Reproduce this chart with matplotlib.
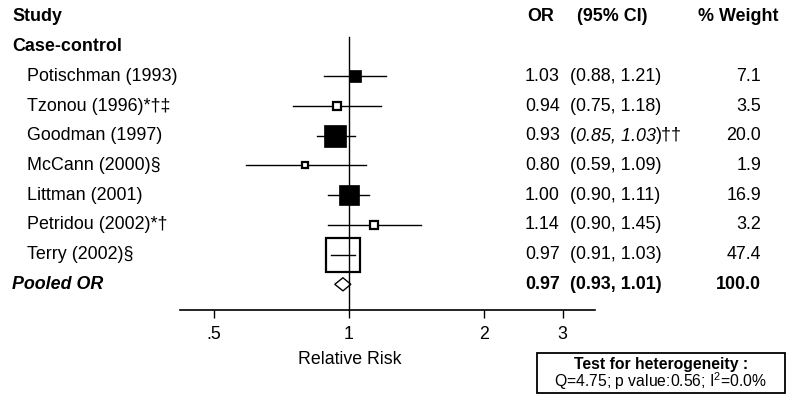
import numpy as np
import matplotlib.pyplot as plt
from matplotlib.patches import Polygon, Rectangle
from matplotlib.transforms import blended_transform_factory

plt.rcParams['font.family'] = ['Liberation Sans', 'DejaVu Sans']
plt.rcParams['mathtext.fontset'] = 'custom'
plt.rcParams['mathtext.rm'] = 'Liberation Sans'
plt.rcParams['mathtext.it'] = 'Liberation Sans:italic'
plt.rcParams['mathtext.bf'] = 'Liberation Sans:bold'

# data
studies = ["Potischman (1993)", "Tzonou (1996)*\u2020\u2021", "Goodman (1997)",
           "McCann (2000)\u00a7", "Littman (2001)", "Petridou (2002)*\u2020",
           "Terry (2002)\u00a7"]
or_vals = [1.03, 0.94, 0.93, 0.80, 1.00, 1.14, 0.97]
ci_low = [0.88, 0.75, 0.85, 0.59, 0.90, 0.90, 0.91]
ci_high = [1.21, 1.18, 1.03, 1.09, 1.11, 1.45, 1.03]
weights = [7.1, 3.5, 20.0, 1.9, 16.9, 3.2, 47.4]
filled = [True, False, True, False, True, False, False]
pooled_or, pooled_low, pooled_high = 0.97, 0.93, 1.01
het_q, het_p, het_i2 = 4.75, 0.56, 0.0
tick_vals = [0.5, 1, 2, 3]
tick_labels = ['.5', '1', '2', '3']

W, H = 800, 412
fig = plt.figure(figsize=(W / 100, H / 100), dpi=100)
ax = fig.add_axes([180 / W, 1 - 310 / H, 415 / W, 310 / H])
ax.set_xscale('log')
ax.set_xlim(0.42, 3.54)
ax.set_ylim(9.865, -0.572)

for s in ['top', 'right', 'left']:
    ax.spines[s].set_visible(False)
ax.spines['bottom'].set_linewidth(1.2)
ax.set_yticks([])
ax.set_xticks(tick_vals)
ax.set_xticklabels(tick_labels)
ax.xaxis.set_minor_locator(plt.NullLocator())
ax.tick_params(axis='x', direction='out', length=5.8, width=1, pad=6, labelsize=12.8)
ax.set_xlabel('Relative Risk', fontsize=12.8)
ax.xaxis.set_label_coords((350 - 180) / 415, -(360 - 310) / 310)
ax.xaxis.label.set_va('center')

# null line, on top of the open boxes
ax.plot([1, 1], [0.673, 9.865], color='black', lw=1, clip_on=False, zorder=5)

rows = np.arange(len(studies)) + 2
px_per_unit = 4.8
for i, r in enumerate(rows):
    ax.plot([ci_low[i], ci_high[i]], [r, r], color='black', lw=1, zorder=2)
    side_px = px_per_unit * np.sqrt(weights[i])
    ms = side_px * 0.72
    if filled[i]:
        ax.plot(or_vals[i], r, marker='s', ms=ms, mfc='black', mec='black', mew=0.5, zorder=3)
    else:
        ax.plot(or_vals[i], r, marker='s', ms=ms, mfc='white', mec='black', mew=1.6, zorder=3)
        # redraw CI on top when it fits inside the box
        x0 = ax.transData.transform((ci_low[i], r))[0]
        x1 = ax.transData.transform((ci_high[i], r))[0]
        xc = ax.transData.transform((or_vals[i], r))[0]
        if xc - x0 < side_px / 2 and x1 - xc < side_px / 2:
            ax.plot([ci_low[i], ci_high[i]], [r, r], color='black', lw=1, zorder=4)

# pooled diamond
pr = 9
h = 0.22
ax.add_patch(Polygon([(pooled_low, pr), (pooled_or, pr - h), (pooled_high, pr), (pooled_or, pr + h)],
                     closed=True, fc='white', ec='black', lw=1, zorder=3))

# text columns
tr = blended_transform_factory(fig.transFigure, ax.transData)
fs = 12.9
ax.text(12 / W, 0, 'Study', transform=tr, fontsize=fs, fontweight='bold', va='center')
ax.text(527 / W, 0, 'OR', transform=tr, fontsize=fs, fontweight='bold', va='center')
ax.text(577 / W, 0, '(95% CI)', transform=tr, fontsize=fs, fontweight='bold', va='center')
ax.text(779 / W, 0, '% Weight', transform=tr, fontsize=fs, fontweight='bold', va='center', ha='right')
ax.text(12 / W, 1, 'Case-control', transform=tr, fontsize=fs, fontweight='bold', va='center')

for i, r in enumerate(rows):
    ax.text(27 / W, r, studies[i], transform=tr, fontsize=fs, va='center')
    ax.text(525 / W, r, f'{or_vals[i]:.2f}', transform=tr, fontsize=fs, va='center')
    if studies[i].startswith('Goodman'):
        t1 = ax.text(570 / W, r, '(', transform=tr, fontsize=fs, va='center')
        t2 = ax.annotate(f'{ci_low[i]:.2f}, {ci_high[i]:.2f}', xy=(1, 0), xycoords=t1,
                         fontsize=fs, fontstyle='italic', va='bottom')
        ax.annotate(')\u2020\u2020', xy=(1, 0), xycoords=t2, fontsize=fs, va='bottom')
    else:
        ax.text(570 / W, r, f'({ci_low[i]:.2f}, {ci_high[i]:.2f})', transform=tr, fontsize=fs,
                va='center')
    ax.text(761 / W, r, f'{weights[i]:.1f}', transform=tr, fontsize=fs, va='center', ha='right')

ax.text(12 / W, pr, 'Pooled OR', transform=tr, fontsize=fs, fontweight='bold', fontstyle='italic', va='center')
ax.text(525 / W, pr, f'{pooled_or:.2f}', transform=tr, fontsize=fs, fontweight='bold', va='center')
ax.text(570 / W, pr, f'({pooled_low:.2f}, {pooled_high:.2f})', transform=tr, fontsize=fs,
        fontweight='bold', va='center')
ax.text(761 / W, pr, f'{sum(weights):.1f}', transform=tr, fontsize=fs, fontweight='bold',
        va='center', ha='right')

# heterogeneity box
fig.patches.append(Rectangle((537 / W, 1 - 393 / H), 248 / W, 40 / H, transform=fig.transFigure,
                             fc='white', ec='black', lw=1.3))
fig.text(661 / W, 1 - 364 / H, 'Test for heterogeneity :', fontsize=11.3, fontweight='bold',
         ha='center', va='center')
fig.text(661 / W, 1 - 381 / H, f'Q={het_q:.2f}; p value:{het_p:.2f}; I$^2$={het_i2:.1f}%',
         fontsize=11.3, ha='center', va='center')

fig.savefig('out.png', dpi=100)
